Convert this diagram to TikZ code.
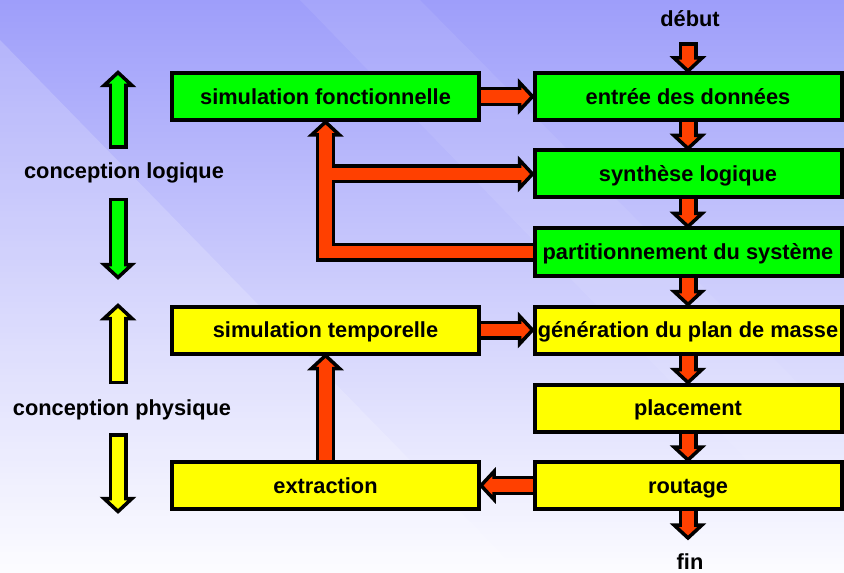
\documentclass[tikz,border=0pt]{standalone}
\usepackage{fontspec}
\setmainfont{Liberation Sans}
\usetikzlibrary{calc}
\definecolor{bgtop}{RGB}{158,158,250}
\definecolor{bgbot}{RGB}{252,252,255}
\definecolor{arrred}{RGB}{255,64,0}
\definecolor{boxgreen}{RGB}{0,255,0}
\definecolor{boxyellow}{RGB}{255,255,0}
\newcommand\headtri[3]{%
  \begin{scope}[shift={#2}, rotate=#3]
    \filldraw[fill=#1, draw=black, line width=3.5bp, line join=miter] (0,0) -- (-13,14) -- (-13,-14) -- cycle;
  \end{scope}}
\newcommand\bconn[5][0bp]{%
  \draw[shaftout, shorten <=-#1] #3 -- ($#4!12bp!#3$);
  \headtri{#2}{#4}{#5}
  \draw[shaftin, draw=#2] #3 -- ($#4!9bp!#3$);}
\begin{document}
\begin{tikzpicture}[x=1bp,y=-1bp,
  txt/.style={font=\fontsize{21.8bp}{26bp}\selectfont\bfseries, inner sep=0pt, text height=15.5bp, text depth=0pt},
  box/.style={txt, draw=black, line width=4bp, minimum width=307bp, minimum height=47bp},
  gbox/.style={box, fill=boxgreen},
  ybox/.style={box, fill=boxyellow},
  shaftout/.style={draw=black, line width=19bp, line join=miter},
  shaftin/.style={line width=12.5bp, line join=miter}]
\useasboundingbox (0,0) rectangle (844,573);
\fill[top color=bgtop, bottom color=bgbot] (0,0) rectangle (844,573);
\fill[white, opacity=0.18] (0,40) -- (520,573) -- (0,573) -- cycle;
\fill[white, opacity=0.08] (300,0) -- (420,0) -- (844,430) -- (844,560) -- cycle;

% boxes
\node[gbox] (simf)   at (325.5,96.5) {simulation fonctionnelle};
\node[gbox] (entree) at (688,96.5)   {entrée des données};
\node[gbox] (synth)  at (688,174)    {synthèse logique};
\node[gbox] (part)   at (688,252)    {partitionnement du système};
\node[ybox] (simt)   at (325.5,330)  {simulation temporelle};
\node[ybox] (gen)    at (688,330)    {génération du plan de masse};
\node[ybox] (plac)   at (688,408)    {placement};
\node[ybox] (extr)   at (325.5,485.5){extraction};
\node[ybox] (rout)   at (688,485.5)  {routage};

% labels
\node[txt] (debut) at (690,18.5) {début};
\node[txt] (fin)   at (690,561.5) {fin};
\node[txt] (clog)  at (124,170.3) {conception logique};
\node[txt] (cphy)  at (122,407.3) {conception physique};

% free ends
\coordinate (s0) at ($(entree.north)+(0,-25)$);
\coordinate (s1) at ($(rout.south)+(0,27)$);

% main flow
\bconn[3.5bp]{arrred}{(s0)}{(entree.north)}{-90}
\bconn{arrred}{(entree.south)}{(synth.north)}{-90}
\bconn{arrred}{(synth.south)}{(part.north)}{-90}
\bconn{arrred}{(part.south)}{(gen.north)}{-90}
\bconn{arrred}{(gen.south)}{(plac.north)}{-90}
\bconn{arrred}{(plac.south)}{(rout.north)}{-90}
\bconn{arrred}{(rout.south)}{(s1)}{-90}

\bconn{arrred}{(simf.east)}{(entree.west)}{0}
\bconn{arrred}{(simt.east)}{(gen.west)}{0}
\bconn{arrred}{(rout.west)}{(extr.east)}{180}
\bconn{arrred}{(extr.north)}{(simt.south)}{90}

% feedback T
\draw[shaftout] (part.west) -| ($(simf.south)+(0,12)$);
\draw[shaftout] (synth.west -| simf.south) -- ($(synth.west)+(-12,0)$);
\headtri{arrred}{(simf.south)}{90}
\headtri{arrred}{(synth.west)}{0}
\draw[shaftin, draw=arrred] (part.west) -| ($(simf.south)+(0,9)$);
\draw[shaftin, draw=arrred] (synth.west -| simf.south) -- ($(synth.west)+(-9,0)$);

% side arrows
\coordinate (g1a) at (118,145.5); \coordinate (g1b) at (118,72.5);
\coordinate (g2a) at (118,201.5); \coordinate (g2b) at (118,277.5);
\coordinate (y1a) at (118,380.5); \coordinate (y1b) at (118,305.5);
\coordinate (y2a) at (118,436.5); \coordinate (y2b) at (118,511.5);
\bconn[3.5bp]{boxgreen}{(g1a)}{(g1b)}{90}
\bconn[3.5bp]{boxgreen}{(g2a)}{(g2b)}{-90}
\bconn[3.5bp]{boxyellow}{(y1a)}{(y1b)}{90}
\bconn[3.5bp]{boxyellow}{(y2a)}{(y2b)}{-90}
\end{tikzpicture}
\end{document}
